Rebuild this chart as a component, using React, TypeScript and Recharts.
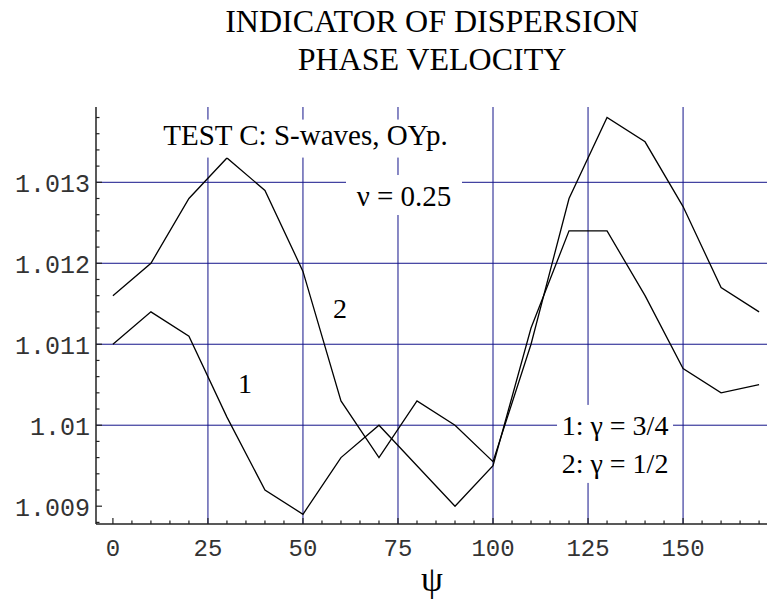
import React from 'react'
import { LineChart, Line, XAxis, YAxis, ReferenceLine, ReferenceDot } from 'recharts'

// psi angle (degrees)
const psi = [0, 10, 20, 30, 40, 50, 60, 70, 80, 90, 100, 110, 120, 130, 140, 150, 160, 170]
// curve 1: gamma = 3/4
const curve1 = [1.011, 1.0114, 1.0111, 1.0101, 1.0092, 1.0089, 1.0096, 1.01, 1.0095, 1.009, 1.0095, 1.0112, 1.0124, 1.0124, 1.0116, 1.0107, 1.0104, 1.0105]
// curve 2: gamma = 1/2
const curve2 = [1.0116, 1.012, 1.0128, 1.0133, 1.0129, 1.0119, 1.0103, 1.0096, 1.0103, 1.01, 1.00955, 1.011, 1.0128, 1.0138, 1.0135, 1.0127, 1.0117, 1.0114]

const xMajor = [0, 25, 50, 75, 100, 125, 150]
const xMinor = [5, 10, 15, 20, 30, 35, 40, 45, 55, 60, 65, 70, 80, 85, 90, 95, 105, 110, 115, 120, 130, 135, 140, 145, 155, 160, 165, 170]
const yMajor = [1.009, 1.01, 1.011, 1.012, 1.013]
const yMinor = [1.0088, 1.0092, 1.0094, 1.0096, 1.0098, 1.0102, 1.0104, 1.0106, 1.0108, 1.0112, 1.0114, 1.0116, 1.0118, 1.0122, 1.0124, 1.0126, 1.0128, 1.0132, 1.0134, 1.0136, 1.0138]
const yLabels = ['1.009', '1.01', '1.011', '1.012', '1.013']

const gridX = [25, 50, 75, 100, 125, 150]
const gridY = [1.01, 1.011, 1.012, 1.013]

const data = psi.map((p, i) => ({ psi: p, c1: curve1[i], c2: curve2[i] }))

const serif = '"Liberation Serif", "Times New Roman", serif'
const mono = '"Liberation Mono", "Courier New", monospace'
const gridColor = '#14148a'
const frameColor = '#222'

const isMajor = (v: number, list: number[]) => list.some((m) => Math.abs(m - v) < 1e-7)

const BottomTick = (props: any) => {
  const { x, y, payload } = props
  const major = isMajor(payload.value, xMajor)
  return (
    <g>
      <line x1={x} x2={x} y1={y} y2={y - (major ? 6 : 3.5)} stroke={frameColor} strokeWidth={1.2} />
      {major && (
        <text x={x} y={y + 32} textAnchor="middle" fontFamily={mono} fontSize={24} fill="#333">
          {payload.value}
        </text>
      )}
    </g>
  )
}

const TopTick = (props: any) => {
  const { x, y, payload } = props
  const major = isMajor(payload.value, xMajor)
  return <line x1={x} x2={x} y1={y} y2={y + (major ? 6 : 3.5)} stroke={frameColor} strokeWidth={1.2} />
}

const LeftTick = (props: any) => {
  const { x, y, payload } = props
  const idx = yMajor.findIndex((m) => Math.abs(m - payload.value) < 1e-7)
  return (
    <g>
      <line x1={x} x2={x + (idx >= 0 ? 6 : 3.5)} y1={y} y2={y} stroke={frameColor} strokeWidth={1.2} />
      {idx >= 0 && (
        <text x={x - 6} y={y + 10} textAnchor="end" fontFamily={mono} fontSize={25} fill="#333">
          {yLabels[idx]}
        </text>
      )}
    </g>
  )
}

// text with a white background box that hides the grid underneath
const boxedText = (lines: string[], w: number, h: number, baselines: number[], fontSize: number) => (props: any) => {
  const { cx, cy } = props
  return (
    <g>
      {w > 0 && <rect x={cx - w / 2} y={cy - h / 2} width={w} height={h} fill="#fff" />}
      {lines.map((t, i) => (
        <text key={i} x={cx} y={cy + baselines[i]} textAnchor="middle" fontFamily={serif} fontSize={fontSize} fill="#000">
          {t}
        </text>
      ))}
    </g>
  )
}

export default function App() {
  return (
    <div style={{ position: 'absolute', left: 0, top: 0, width: 767, height: 604, overflow: 'hidden', background: '#fff' }}>
      <div
        style={{
          position: 'absolute',
          left: 0,
          top: 2,
          width: 864,
          textAlign: 'center',
          fontFamily: serif,
          fontSize: 32,
          lineHeight: '38px',
          color: '#000',
        }}
      >
        INDICATOR OF DISPERSION
        <br />
        PHASE VELOCITY
      </div>
      <div
        style={{
          position: 'absolute',
          left: 0,
          top: 561,
          width: 864,
          textAlign: 'center',
          fontFamily: serif,
          fontSize: 35,
          lineHeight: '38px',
          color: '#000',
        }}
      >
        ψ
      </div>
      <div style={{ position: 'absolute', left: 0, top: 0 }}>
        <LineChart width={780} height={604} data={data} margin={{ top: 107, right: 4, bottom: 0, left: 0 }}>
          <XAxis
            dataKey="psi"
            type="number"
            domain={[-4.45, 174.45]}
            ticks={[...xMajor, ...xMinor].sort((a, b) => a - b)}
            interval={0}
            tick={<BottomTick />}
            tickLine={false}
            tickSize={0}
            tickMargin={0}
            height={80}
            axisLine={{ stroke: frameColor, strokeWidth: 1.5 }}
          />
          <XAxis
            xAxisId="top"
            dataKey="psi"
            type="number"
            orientation="top"
            domain={[-4.45, 174.45]}
            ticks={[...xMajor, ...xMinor].sort((a, b) => a - b)}
            interval={0}
            tick={<TopTick />}
            tickLine={false}
            tickSize={0}
            tickMargin={0}
            height={0}
            axisLine={{ stroke: frameColor, strokeWidth: 1.5 }}
          />
          <YAxis
            type="number"
            domain={[1.00878, 1.01393]}
            ticks={[...yMajor, ...yMinor].sort((a, b) => a - b)}
            interval={0}
            tick={<LeftTick />}
            tickLine={false}
            tickSize={0}
            tickMargin={0}
            width={96}
            allowDataOverflow
            axisLine={{ stroke: frameColor, strokeWidth: 1.5 }}
          />
          {gridX.map((v) => (
            <ReferenceLine key={`gx-${v}`} x={v} stroke={gridColor} strokeWidth={1} />
          ))}
          {gridY.map((v) => (
            <ReferenceLine key={`gy-${v}`} y={v} stroke={gridColor} strokeWidth={1} />
          ))}
          <ReferenceDot x={50.66} y={1.01354} r={0} shape={boxedText(['TEST C: S-waves, OYp.'], 310, 38, [6], 29)} />
          <ReferenceDot x={76.58} y={1.012843} r={0} shape={boxedText(['ν = 0.25'], 116, 40, [11], 29)} />
          <ReferenceDot x={132.1} y={1.009769} r={0} shape={boxedText(['1: γ = 3/4', '2: γ = 1/2'], 116, 78, [-9, 29], 28)} />
          <ReferenceDot x={59.74} y={1.011448} r={0} shape={boxedText(['2'], 0, 0, [10], 28)} />
          <ReferenceDot x={34.74} y={1.01051} r={0} shape={boxedText(['1'], 0, 0, [9], 28)} />
          <Line dataKey="c1" stroke="#000" strokeWidth={1.3} dot={false} isAnimationActive={false} type="linear" />
          <Line dataKey="c2" stroke="#000" strokeWidth={1.3} dot={false} isAnimationActive={false} type="linear" />
        </LineChart>
      </div>
    </div>
  )
}
